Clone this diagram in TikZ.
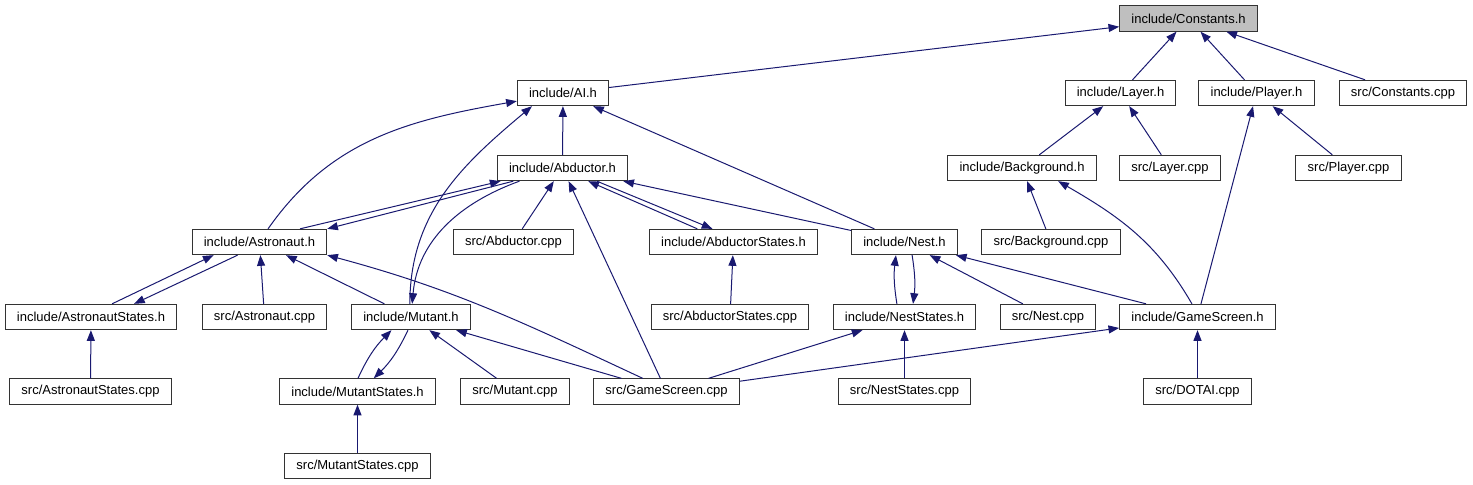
\documentclass[tikz,border=0pt]{standalone}
\usepackage{fontspec}
\setmainfont{Liberation Sans}
\usetikzlibrary{arrows.meta}
\definecolor{edgeblue}{HTML}{191970}

\begin{document}
\begin{tikzpicture}[x=0.75pt, y=-0.75pt,
  file/.style={draw=black!80, line width=0.75pt, fill=white, inner xsep=8.8pt, inner ysep=0pt,
    minimum height=19pt, font=\fontsize{9.75}{11}\selectfont},
  root/.style={file, fill=black!25},
  arr/.style={-{Triangle[length=8pt, width=6pt]}, draw=edgeblue, line width=0.75pt}]
\useasboundingbox (0,0) rectangle (1473,485);
\node[root] (consth) at (1188.5,18.5) {include/Constants.h};
\node[file] (aih) at (563,93) {include/AI.h};
\node[file] (layerh) at (1120.5,93) {include/Layer.h};
\node[file] (playerh) at (1256.5,93) {include/Player.h};
\node[file] (constcpp) at (1403,93) {src/Constants.cpp};
\node[file] (abdh) at (562.5,168) {include/Abductor.h};
\node[file] (bgh) at (1022,168) {include/Background.h};
\node[file] (layercpp) at (1170,168) {src/Layer.cpp};
\node[file] (playercpp) at (1348.5,168) {src/Player.cpp};
\node[file] (astrh) at (259.5,242) {include/Astronaut.h};
\node[file] (abdcpp) at (513.5,242) {src/Abductor.cpp};
\node[file] (abdsth) at (733.5,242) {include/AbductorStates.h};
\node[file] (nesth) at (904.5,242) {include/Nest.h};
\node[file] (bgcpp) at (1051,242) {src/Background.cpp};
\node[file] (astrsth) at (91,317) {include/AstronautStates.h};
\node[file] (astrcpp) at (264.5,317) {src/Astronaut.cpp};
\node[file] (mutanth) at (411,317) {include/Mutant.h};
\node[file] (abdstcpp) at (730,317) {src/AbductorStates.cpp};
\node[file] (neststh) at (904.5,317) {include/NestStates.h};
\node[file] (nestcpp) at (1048,317) {src/Nest.cpp};
\node[file] (gsh) at (1197.5,317) {include/GameScreen.h};
\node[file] (astrstcpp) at (90.5,391.5) {src/AstronautStates.cpp};
\node[file] (mutstth) at (357.5,391.5) {include/MutantStates.h};
\node[file] (mutcpp) at (515,391.5) {src/Mutant.cpp};
\node[file] (gscpp) at (666.5,391.5) {src/GameScreen.cpp};
\node[file] (neststcpp) at (904.5,391.5) {src/NestStates.cpp};
\node[file] (dotaicpp) at (1197.5,391.5) {src/DOTAI.cpp};
\node[file] (mutstcpp) at (357.5,466) {src/MutantStates.cpp};
\draw[arr] (aih) -- (consth);
\draw[arr] (layerh) -- (consth);
\draw[arr] (playerh) -- (consth);
\draw[arr] (constcpp) -- (consth);
\draw[arr] (astrh.57) to[out=55, in=190] (aih.190);
\draw[arr] (mutanth.95) to[out=90, in=220] (aih.203);
\draw[arr] (abdh) -- (aih);
\draw[arr] (nesth) -- (aih);
\draw[arr] (bgh) -- (layerh);
\draw[arr] (layercpp) -- (layerh);
\draw[arr] (gsh) -- (playerh);
\draw[arr] (playercpp) -- (playerh);
\draw[arr] (astrh.18) -- (abdh.192);
\draw[arr] (abdh.195) -- (astrh.11);
\draw[arr] (abdh.197) to[out=200, in=85] (mutanth.85);
\draw[arr] (abdcpp) -- (abdh);
\draw[arr] (gscpp) -- (abdh);
\draw[arr] (abdsth.160) -- (abdh.-27);
\draw[arr] (abdh.-21) -- (abdsth.148);
\draw[arr] (nesth) -- (abdh);
\draw[arr] (bgcpp) -- (bgh);
\draw[arr] (gsh.113) to[out=120, in=-30] (bgh.-20);
\draw[arr] (astrsth.32) -- (astrh.196);
\draw[arr] (astrh.211) -- (astrsth.17);
\draw[arr] (astrcpp) -- (astrh);
\draw[arr] (mutanth) -- (astrh);
\draw[arr] (gscpp.151) to[out=155, in=-15] (astrh.-11);
\draw[arr] (abdstcpp) -- (abdsth);
\draw[arr] (neststh.120) to[bend left=8] (nesth.237);
\draw[arr] (nesth.-60) to[bend left=8] (neststh.57);
\draw[arr] (nestcpp) -- (nesth);
\draw[arr] (gsh) -- (nesth);
\draw[arr] (astrstcpp) -- (astrsth);
\draw[arr] (mutstth.88) to[bend left=10] (mutanth.214);
\draw[arr] (mutanth.257) to[bend left=10] (mutstth.39);
\draw[arr] (mutcpp) -- (mutanth);
\draw[arr] (gscpp) -- (mutanth);
\draw[arr] (gscpp) -- (neststh);
\draw[arr] (neststcpp) -- (neststh);
\draw[arr] (gscpp) -- (gsh);
\draw[arr] (dotaicpp) -- (gsh);
\draw[arr] (mutstcpp) -- (mutstth);
\end{tikzpicture}
\end{document}
